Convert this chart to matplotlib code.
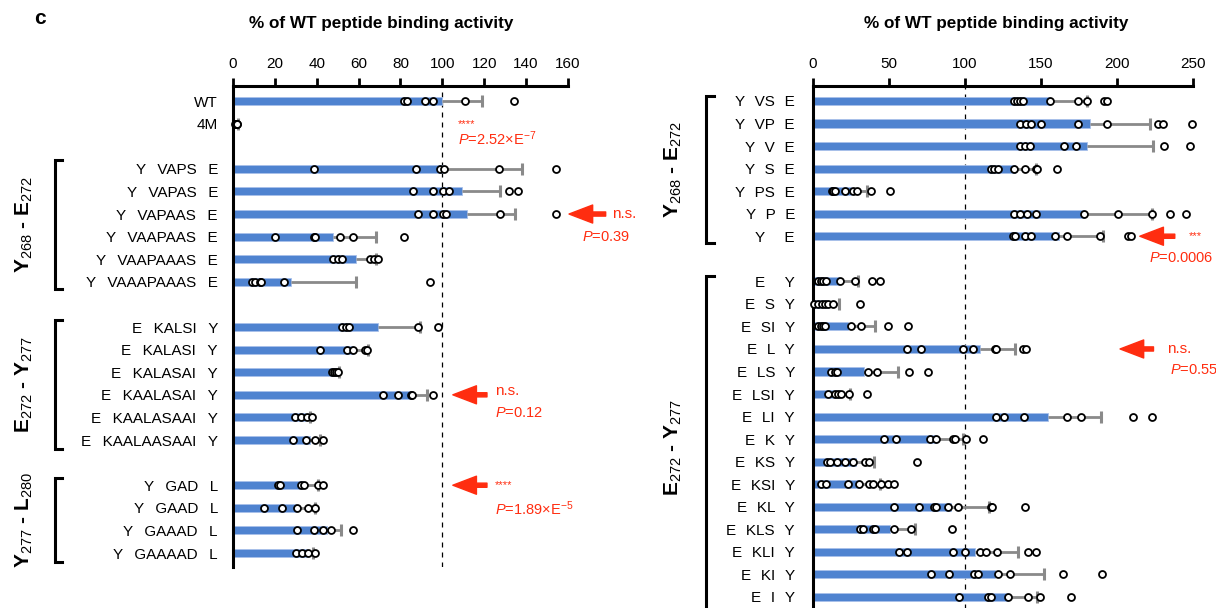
import matplotlib
matplotlib.use('Agg')
import matplotlib.pyplot as plt
import numpy as np
from matplotlib.transforms import blended_transform_factory

plt.rcParams['font.family'] = ['Liberation Sans', 'DejaVu Sans']
plt.rcParams['mathtext.fontset'] = 'custom'
plt.rcParams['mathtext.rm'] = 'Liberation Sans'
plt.rcParams['mathtext.it'] = 'Liberation Sans:italic'
plt.rcParams['mathtext.bf'] = 'Liberation Sans:bold'

# ---- panel izquierdo ----
grupos_izq = [2, 6, 6, 4]
etiquetas_izq = ['WT', '4M',
                 'Y  VAPS  E', 'Y  VAPAS  E', 'Y  VAPAAS  E', 'Y  VAAPAAS  E',
                 'Y  VAAPAAAS  E', 'Y  VAAAPAAAS  E',
                 'E  KALSI  Y', 'E  KALASI  Y', 'E  KALASAI  Y', 'E  KAALASAI  Y',
                 'E  KAALASAAI  Y', 'E  KAALAASAAI  Y',
                 'Y  GAD  L', 'Y  GAAD  L', 'Y  GAAAD  L', 'Y  GAAAAD  L']
medias_izq = [100, 1.5,
              100.5, 109.5, 112, 48, 58.9, 27.7,
              69.3, 57.5, 49, 85, 34.5, 37,
              33.5, 30, 45, 35.5]
sd_izq = [19, 1.0,
          37.6, 18.2, 22.5, 20.4, 9.5, 31,
          20.1, 7, 1.5, 7.5, 2.5, 4.5,
          7, 9.2, 6.6, 2.5]
puntos_izq = [
    [81.6, 83.0, 91.6, 95.4, 110.9, 134.1],
    [1.0, 1.3, 1.6, 1.8, 2.0],
    [38.5, 87.4, 99.1, 100.9, 127.0, 154.5],
    [86.1, 95.6, 100.3, 103.4, 131.9, 136.1],
    [88.3, 95.6, 100.3, 101.8, 127.3, 154.2],
    [20.1, 38.7, 39.4, 50.9, 57.5, 81.9],
    [48.0, 50.0, 52.2, 65.3, 67.5, 69.3],
    [8.9, 10.5, 13.0, 13.5, 24.4, 94.0],
    [52.2, 53.8, 55.3, 88.3, 97.8],
    [41.6, 54.5, 57.5, 62.9, 64.0],
    [47.1, 48.2, 49.0, 50.2],
    [71.7, 79.0, 84.8, 85.4, 95.4],
    [29.6, 32.5, 35.2, 37.9],
    [28.8, 34.7, 39.4, 42.9],
    [21.3, 22.3, 32.3, 34.1, 40.5, 43.2],
    [14.6, 23.4, 30.6, 35.6, 39.2],
    [30.5, 38.7, 43.2, 46.9, 57.5],
    [30.1, 32.8, 35.6, 39.2],
]
ticks_izq = [0, 20, 40, 60, 80, 100, 120, 140, 160]

# ---- panel derecho ----
grupos_der = [7, 15]
etiquetas_der = ['Y  VS  E', 'Y  VP  E', 'Y  V  E', 'Y  S  E', 'Y  PS  E', 'Y  P  E', 'Y    E',
                 'E    Y', 'E  S  Y', 'E  SI  Y', 'E  L  Y', 'E  LS  Y', 'E  LSI  Y', 'E  LI  Y',
                 'E  K  Y', 'E  KS  Y', 'E  KSI  Y', 'E  KL  Y', 'E  KLS  Y', 'E  KLI  Y',
                 'E  KI  Y', 'E  I  Y']
medias_der = [156.1, 182.2, 180.2, 133, 25, 178.1, 162.1,
              17, 10, 23, 109.9, 33.3, 18, 154.3, 81, 28, 30, 91, 50.9, 106.5, 119.4, 128.5]
sd_der = [24.1, 39.3, 43.4, 13.6, 10.7, 44.7, 28.9,
          12.5, 6.8, 17.6, 23.2, 22.8, 6.3, 35.4, 17.7, 11.8, 13.9, 24.5, 16.3, 28.4, 32.3, 18.8]
puntos_der = [
    [132.4, 134.4, 136.2, 138.3, 156.1, 174.2, 180.2, 191.3, 193.4],
    [136.2, 139.8, 143.5, 149.9, 174.5, 193.4, 226.7, 230.1, 249.5],
    [136.2, 139.6, 142.7, 164.9, 172.7, 230.6, 247.9],
    [117.1, 118.9, 122.0, 132.4, 139.3, 146.6, 147.3, 160.3],
    [12.4, 13.2, 14.2, 20.9, 26.6, 29.0, 38.0, 50.4],
    [132.4, 136.2, 140.9, 146.6, 178.1, 200.9, 222.8, 235.0, 245.3],
    [131.8, 133.1, 139.3, 143.5, 159.5, 167.2, 188.7, 207.3, 209.1],
    [3.6, 5.2, 6.7, 8.8, 17.8, 27.4, 38.5, 43.9],
    [0.8, 3.4, 5.7, 7.8, 9.6, 13.4, 31.0],
    [3.6, 5.2, 6.7, 7.8, 25.3, 31.3, 49.4, 62.6],
    [61.8, 70.8, 98.7, 105.2, 119.4, 120.7, 138.3, 140.1],
    [12.1, 14.7, 16.0, 36.2, 41.9, 63.3, 75.7],
    [9.6, 14.2, 16.5, 18.6, 23.8, 35.7],
    [120.7, 125.9, 138.8, 167.2, 176.3, 210.7, 222.8],
    [47.0, 54.3, 76.8, 81.2, 91.8, 93.1, 100.6, 111.9],
    [9.0, 10.9, 15.8, 21.2, 26.6, 34.4, 36.7, 68.5],
    [5.2, 8.3, 23.3, 30.2, 36.7, 39.3, 44.5, 49.1, 53.0],
    [53.5, 69.5, 79.4, 81.2, 88.9, 95.4, 116.8, 117.6, 139.6],
    [30.8, 32.8, 39.3, 41.1, 53.0, 64.4, 91.3],
    [56.6, 61.8, 92.3, 100.0, 109.9, 113.7, 121.2, 141.4, 146.6],
    [77.6, 89.7, 105.7, 108.3, 122.0, 129.3, 164.7, 190.0],
    [96.2, 115.0, 117.4, 128.5, 141.4, 149.2, 169.8],
]
ticks_der = [0, 50, 100, 150, 200, 250]

AZUL = '#4f83d0'
GRIS = '#8a8a8a'
ROJO = '#ff2d10'


def espaciar(etiqueta, extra):
    # los huecos de la figura original son algo mas anchos que dos espacios
    return etiqueta.replace('  ', '  ' + extra)


def filas(tamanos):
    pos = []
    r = 0
    for t in tamanos:
        pos.extend(range(r, r + t))
        r += t + 1
    return pos


def dibuja_panel(ax, etiquetas, medias, sd, puntos, grupos, ticks, ylim, pad, x_titulo):
    y = filas(grupos)
    ax.barh(y, medias, height=0.36, color=AZUL, edgecolor='#a9c1ea', linewidth=0.6, zorder=1)
    fin = np.array(medias) + np.array(sd)
    ax.hlines(y, medias, fin, color=GRIS, lw=2, zorder=2)
    ax.plot(fin, y, ls='none', marker='|', ms=9, mew=2.2, color=GRIS, zorder=2)
    for yi, pts in zip(y, puntos):
        ax.plot(pts, [yi] * len(pts), ls='none', marker='o', ms=5, mfc='white',
                mec='black', mew=1.3, zorder=3, clip_on=False)
    ax.axvline(100, color='black', lw=0.9, ls=(0, (4, 4)), zorder=0)
    ax.set_xlim(ticks[0], ticks[-1])
    ax.set_ylim(*ylim)
    ax.set_xticks(ticks)
    ax.set_yticks(y)
    ax.set_yticklabels(etiquetas)
    ax.xaxis.tick_top()
    ax.tick_params(axis='x', direction='out', length=6, width=2, labelsize=11, pad=5)
    ax.tick_params(axis='y', length=0, labelsize=11, pad=pad)
    ax.spines['bottom'].set_visible(False)
    ax.spines['right'].set_visible(False)
    ax.spines['top'].set_linewidth(2.2)
    ax.spines['left'].set_linewidth(2.2)
    fig.text(x_titulo, 0.962, '% of WT peptide binding activity',
             ha='center', va='center', fontsize=12.3, fontweight='bold')
    return y


def corchete(ax, y0, y1, xc, texto, xt):
    tr = blended_transform_factory(ax.transAxes, ax.transData)
    ax.plot([xc + 0.022, xc, xc, xc + 0.022], [y0, y0, y1, y1], color='black', lw=2.2,
            transform=tr, clip_on=False, solid_joinstyle='miter')
    ax.text(xt, (y0 + y1) / 2, texto, transform=tr, rotation=90, ha='center', va='center',
            fontsize=15, fontweight='bold')


def flecha(ax, punta, cola, fila):
    ax.annotate('', xy=(punta, fila), xytext=(cola, fila), annotation_clip=False,
                arrowprops=dict(arrowstyle='simple,head_length=1.7,head_width=1.3,tail_width=0.3',
                                color=ROJO, mutation_scale=10, shrinkA=0, shrinkB=0))


def nota(ax, x, fila, texto, size=10.5):
    ax.text(x, fila, texto, color=ROJO, fontsize=size, ha='left', va='center', clip_on=False)


fig = plt.figure(figsize=(12.16, 6.08), dpi=100)
ax1 = fig.add_axes([0.1916, 0.0674, 0.2755, 0.7911])
ax2 = fig.add_axes([0.6686, -0.0197, 0.3125, 0.8775])

y1 = dibuja_panel(ax1, [espaciar(e, '\u2009') for e in etiquetas_izq], medias_izq, sd_izq,
                  puntos_izq, grupos_izq, ticks_izq, (20.62, -0.664), 10.8, 381 / 1216)
y2 = dibuja_panel(ax2, [espaciar(e, '\u200a') for e in etiquetas_der], medias_der, sd_der,
                  puntos_der, grupos_der, ticks_der, (23.02, -0.643), 13, 996 / 1216)

# corchetes de grupos
corchete(ax1, y1[2] - 0.4, y1[7] + 0.3, -0.531, r'Y$_{\mathrm{268}}$ - E$_{\mathrm{272}}$', -0.624)
corchete(ax1, y1[8] - 0.3, y1[13] + 0.4, -0.531, r'E$_{\mathrm{272}}$ - Y$_{\mathrm{277}}$', -0.624)
corchete(ax1, y1[14] - 0.3, y1[17] + 0.4, -0.531, r'Y$_{\mathrm{277}}$ - L$_{\mathrm{280}}$', -0.624)
corchete(ax2, y2[0] - 0.2, y2[6] + 0.3, -0.282, r'Y$_{\mathrm{268}}$ - E$_{\mathrm{272}}$', -0.368)
corchete(ax2, y2[7] - 0.25, y2[21] + 1.0, -0.282, r'E$_{\mathrm{272}}$ - Y$_{\mathrm{277}}$', -0.368)

# anotaciones
nota(ax1, 107.5, 1.0, '****', 8)
nota(ax1, 107.5, 1.65, r'$P$=2.52×E$^{-7}$')
flecha(ax1, 160.5, 178, y1[4])
nota(ax1, 181, y1[4], 'n.s.', 11)
nota(ax1, 166.5, y1[4] + 1.0, r'$P$=0.39')
flecha(ax1, 105, 121.3, y1[11])
nota(ax1, 125, y1[11] - 0.15, 'n.s.', 11)
nota(ax1, 125, y1[11] + 0.8, r'$P$=0.12')
flecha(ax1, 105, 121.3, y1[14])
nota(ax1, 125, y1[14], '****', 8)
nota(ax1, 125, y1[14] + 1.05, r'$P$=1.89×E$^{-5}$')

flecha(ax2, 215, 238, y2[6])
nota(ax2, 247, y2[6], '***', 8)
nota(ax2, 221, y2[6] + 0.95, r'$P$=0.0006')
flecha(ax2, 202, 224, y2[10])
nota(ax2, 233, y2[10], 'n.s.', 11)
nota(ax2, 235, y2[10] + 0.95, r'$P$=0.55')

fig.text(40 / 1216, 1 - 18 / 608, 'c', fontsize=15, fontweight='bold', ha='center', va='center')

plt.savefig('out.png', dpi=100)
plt.close()
